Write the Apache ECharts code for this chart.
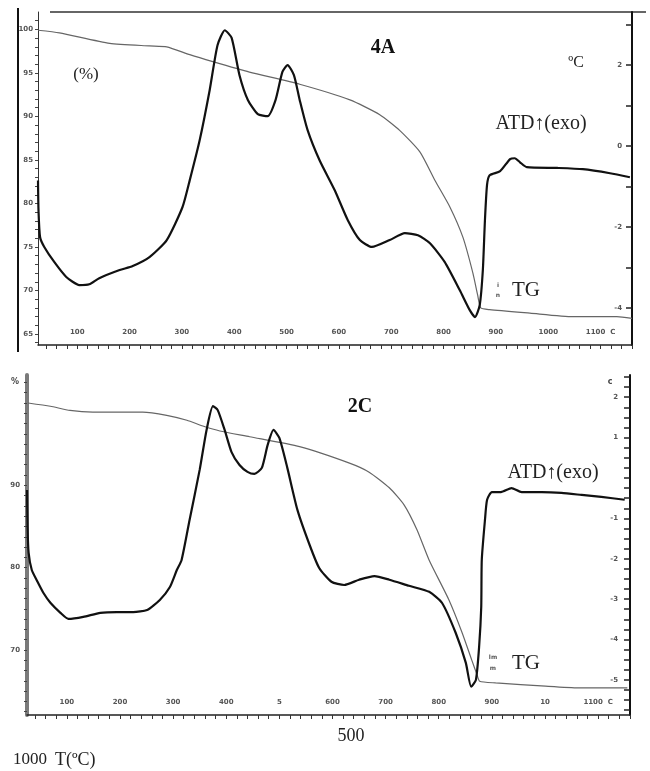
<!DOCTYPE html>
<html>
<head>
<meta charset="utf-8">
<script src="https://cdn.jsdelivr.net/npm/echarts@6/dist/echarts.min.js"></script>
<style>
  html, body { margin: 0; padding: 0; background: #fff; }
  #chart { width: 650px; height: 771px; }
</style>
</head>
<body>
<div id="chart"></div>
<script>
// panel 4A — TG (%) on left axis, ATD on right axis, against T (°C)
const tTopTG = [25, 66, 162, 238, 271, 315, 359, 429, 525, 621, 678, 716, 755, 783, 812, 837, 856, 865, 871, 888, 965, 1047, 1131, 1160]
const tgTop = [99.9, 99.6, 98.4, 98.1, 98.0, 97.1, 96.3, 95.1, 93.7, 91.9, 90.2, 88.4, 85.9, 82.7, 79.6, 76.1, 72.0, 69.5, 68.0, 67.8, 67.4, 67.0, 67.0, 66.8]

const tTopATD = [25, 26, 29, 37, 56, 79, 104, 123, 142, 181, 206, 238, 271, 301, 315, 334, 353, 368, 382, 395, 410, 426, 445, 464, 479, 492, 502, 514, 525, 540, 563, 592, 617, 640, 663, 697, 726, 751, 774, 802, 831, 850, 860, 869, 875, 879, 883, 888, 908, 927, 936, 946, 959, 1017, 1066, 1118, 1156]
const atdTop = [-0.85, -1.6, -2.25, -2.49, -2.86, -3.23, -3.43, -3.41, -3.26, -3.06, -2.96, -2.74, -2.32, -1.51, -0.84, 0.15, 1.38, 2.49, 2.86, 2.67, 1.75, 1.14, 0.79, 0.74, 1.14, 1.83, 2.0, 1.75, 1.14, 0.40, -0.35, -1.09, -1.83, -2.32, -2.49, -2.32, -2.15, -2.20, -2.40, -2.86, -3.56, -4.05, -4.22, -3.93, -3.06, -1.83, -0.96, -0.72, -0.62, -0.32, -0.30, -0.40, -0.52, -0.54, -0.57, -0.67, -0.77]

// panel 2C
const tBotTG = [27, 69, 106, 149, 243, 288, 326, 356, 388, 444, 538, 632, 669, 707, 735, 759, 782, 819, 844, 862, 872, 877, 907, 1001, 1063, 1155]
const tgBot = [100.0, 99.6, 99.1, 98.9, 98.9, 98.5, 97.9, 97.2, 96.6, 95.9, 94.7, 92.7, 91.6, 89.7, 87.6, 84.6, 80.9, 76.1, 72.1, 68.8, 67.0, 66.2, 66.0, 65.6, 65.4, 65.4]

const tBotATD = [25, 26, 28, 34, 44, 56, 69, 88, 103, 131, 163, 194, 225, 251, 275, 294, 307, 316, 331, 350, 363, 375, 384, 397, 410, 425, 440, 453, 467, 478, 489, 500, 515, 534, 557, 575, 598, 622, 650, 679, 707, 744, 782, 806, 832, 851, 861, 870, 876, 880, 881, 887, 891, 900, 917, 937, 956, 994, 1031, 1069, 1106, 1150]
const atdBot = [-0.3, -1.2, -1.85, -2.28, -2.55, -2.85, -3.09, -3.34, -3.49, -3.44, -3.34, -3.32, -3.32, -3.27, -3.02, -2.70, -2.28, -2.03, -1.04, 0.20, 1.19, 1.78, 1.68, 1.19, 0.64, 0.32, 0.15, 0.10, 0.25, 0.82, 1.19, 0.99, 0.25, -0.79, -1.66, -2.23, -2.57, -2.65, -2.52, -2.43, -2.52, -2.67, -2.82, -3.09, -3.84, -4.58, -5.17, -5.00, -4.18, -3.19, -2.03, -1.04, -0.54, -0.35, -0.35, -0.25, -0.35, -0.35, -0.37, -0.42, -0.47, -0.54]

// tick labels
const xLabelValues = [100, 200, 300, 400, 500, 600, 700, 800, 900, 1000, 1100]
const xLabelsTop = ['100', '200', '300', '400', '500', '600', '700', '800', '900', '1000', '1100  C']
const xLabelsBot = ['100', '200', '300', '400', '5', '600', '700', '800', '900', '10', '1100  C']
const tgLabelsTop = [65, 70, 75, 80, 85, 90, 95, 100]
const tgLabelsBot = [70, 80, 90]
const atdLabelsTop = [-4, -2, 0, 2]
const atdLabelsBot = [2, 1, -1, -2, -3, -4, -5]

const zip = (xs, ys) => xs.map((x, i) => [x, ys[i]])
const steps = (from, to, step) => {
  const out = []
  for (let v = from; v <= to + 1e-9; v += step) out.push(+v.toFixed(3))
  return out
}

const tickFont = { fontSize: 7, fontWeight: 'bold', color: '#555', fontFamily: 'DejaVu Sans' }

function xAxisFor(gridIndex, labels) {
  return {
    type: 'value', gridIndex, min: 25, max: 1160,
    axisLine: { onZero: false, lineStyle: { color: '#222', width: 1.5 } },
    axisTick: { customValues: steps(40, 1160, 20), length: 4, lineStyle: { color: '#333' } },
    axisLabel: {
      customValues: xLabelValues, inside: true, margin: 9, ...tickFont,
      formatter: v => labels[xLabelValues.indexOf(v)] || ''
    },
    splitLine: { show: false }
  }
}

function text(x, y, str, font, extra) {
  return { type: 'text', x, y, style: { text: str, font, fill: '#222', align: 'center', verticalAlign: 'middle', ...extra } }
}

const chart = echarts.init(document.getElementById('chart'))
chart.setOption({
  backgroundColor: '#fff',
  animation: false,
  grid: [
    { left: 38, right: 18, top: 12, bottom: 426 },
    { left: 27, right: 20, top: 375, bottom: 56 }
  ],
  xAxis: [xAxisFor(0, xLabelsTop), xAxisFor(1, xLabelsBot)],
  yAxis: [
    {
      type: 'value', gridIndex: 0, position: 'left', min: 63.74, max: 102.0,
      axisLine: { show: true, onZero: false, lineStyle: { color: '#333', width: 1 } },
      axisTick: { show: true, customValues: steps(64, 101, 1), length: 3, lineStyle: { color: '#444' } },
      axisLabel: { customValues: tgLabelsTop, margin: 5, ...tickFont },
      splitLine: { show: false }
    },
    {
      type: 'value', gridIndex: 0, position: 'right', min: -4.91, max: 3.31,
      axisLine: { show: true, onZero: false, lineStyle: { color: '#111', width: 2 } },
      axisTick: { show: true, customValues: steps(-4, 3, 1), inside: true, length: 6, lineStyle: { color: '#222', width: 1.5 } },
      axisLabel: { customValues: atdLabelsTop, inside: true, margin: 10, ...tickFont },
      splitLine: { show: false }
    },
    {
      type: 'value', gridIndex: 1, position: 'left', min: 62.1, max: 103.4,
      axisLine: { show: true, onZero: false, lineStyle: { color: '#7a7a7a', width: 4 } },
      axisTick: { show: true, customValues: steps(62.5, 102.5, 1.25), length: 3, lineStyle: { color: '#444' } },
      axisLabel: { customValues: tgLabelsBot, margin: 7, ...tickFont },
      splitLine: { show: false }
    },
    {
      type: 'value', gridIndex: 1, position: 'right', min: -5.87, max: 2.55,
      axisLine: { show: true, onZero: false, lineStyle: { color: '#111', width: 2 } },
      axisTick: { show: true, customValues: steps(-5.75, 2.5, 0.25), inside: true, length: 6, lineStyle: { color: '#222', width: 1.5 } },
      axisLabel: { customValues: atdLabelsBot, inside: true, margin: 12, ...tickFont },
      splitLine: { show: false }
    }
  ],
  series: [
    { name: 'TG 4A', type: 'line', xAxisIndex: 0, yAxisIndex: 0, data: zip(tTopTG, tgTop), showSymbol: false, smooth: 0.2, lineStyle: { color: '#666', width: 1.2 } },
    { name: 'ATD 4A', type: 'line', xAxisIndex: 0, yAxisIndex: 1, data: zip(tTopATD, atdTop), showSymbol: false, smooth: 0.2, lineStyle: { color: '#111', width: 2.2 } },
    { name: 'TG 2C', type: 'line', xAxisIndex: 1, yAxisIndex: 2, data: zip(tBotTG, tgBot), showSymbol: false, smooth: 0.2, lineStyle: { color: '#666', width: 1.2 } },
    { name: 'ATD 2C', type: 'line', xAxisIndex: 1, yAxisIndex: 3, data: zip(tBotATD, atdBot), showSymbol: false, smooth: 0.2, lineStyle: { color: '#111', width: 2.2 } }
  ],
  graphic: [
    // frame bits of the top panel
    { type: 'line', shape: { x1: 18, y1: 8, x2: 18, y2: 352 }, style: { stroke: '#111', lineWidth: 2 } },
    { type: 'line', shape: { x1: 50, y1: 12, x2: 646, y2: 12 }, style: { stroke: '#333', lineWidth: 1.5 } },
    // texts
    text(383, 48, '4A', 'bold 20px "Liberation Serif"', { fill: '#111' }),
    text(86, 75, '(%)', '17px "Liberation Serif"'),
    text(576, 63, 'ºC', '16px "Liberation Serif"'),
    text(541, 124, 'ATD↑(exo)', '20px "Liberation Serif"'),
    text(526, 290, 'TG', '21px "Liberation Serif"'),
    text(498, 285, 'i', 'bold 6px "DejaVu Sans"', { fill: '#555' }),
    text(498, 295, 'n', 'bold 6px "DejaVu Sans"', { fill: '#555' }),
    text(360, 407, '2C', 'bold 20px "Liberation Serif"', { fill: '#111' }),
    text(553, 473, 'ATD↑(exo)', '20px "Liberation Serif"'),
    text(526, 663, 'TG', '21px "Liberation Serif"'),
    text(493, 657, 'lm', 'bold 6px "DejaVu Sans"', { fill: '#555' }),
    text(493, 668, 'm', 'bold 6px "DejaVu Sans"', { fill: '#555' }),
    text(15, 382, '%', 'bold 8px "DejaVu Sans"', { fill: '#444' }),
    text(610, 382, 'c', 'bold 8px "DejaVu Sans"', { fill: '#444' }),
    text(351, 736, '500', '18px "Liberation Serif"'),
    text(13, 760, '1000', '17px "Liberation Serif"', { align: 'left' }),
    text(55, 760, 'T(ºC)', '18px "Liberation Serif"', { align: 'left' })
  ]
})
</script>
</body>
</html>
